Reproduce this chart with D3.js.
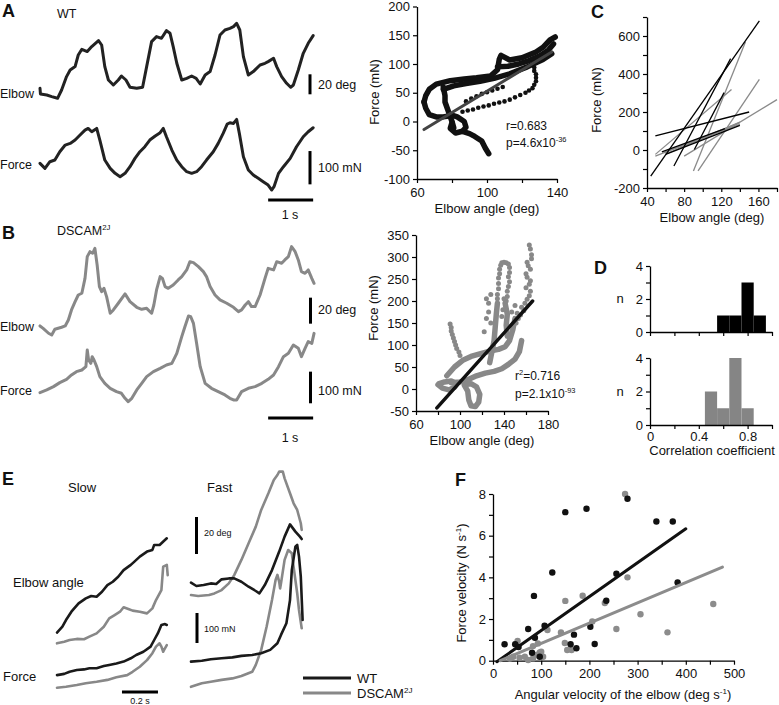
<!DOCTYPE html>
<html><head><meta charset="utf-8">
<script src="https://cdn.jsdelivr.net/npm/d3@7"></script>
<style>body{margin:0;background:#fff}</style>
</head><body>
<svg id="fig" width="779" height="705"></svg>
<script>
// ================= DATA =================
// Panel A (WT) traces: [time s, elbow deg] and [time s, force mN]
const aElbow = [[0,75],[0.01,69.3],[0.15,68.3],[0.26,66.7],[0.39,65],[0.48,73.3],[0.59,86.7],[0.67,93.3],[0.78,96.7],[0.85,108.3],[0.93,114],[1.05,111.7],[1.15,116.7],[1.30,122.7],[1.37,118.3],[1.44,96.7],[1.52,83.3],[1.63,78.3],[1.74,83.3],[1.81,87.3],[1.91,83.3],[2.00,76],[2.15,75],[2.28,76],[2.37,96.7],[2.48,121.7],[2.59,126.7],[2.70,125],[2.81,132.7],[2.89,130],[2.96,116.7],[3.04,100],[3.15,83.3],[3.26,85],[3.37,87.3],[3.47,85],[3.56,79.3],[3.67,88.3],[3.78,91.7],[3.89,108.3],[4.00,128.3],[4.11,133.3],[4.22,135],[4.30,136.7],[4.37,140],[4.44,133.3],[4.52,106.7],[4.63,88.3],[4.74,91.7],[4.89,98.3],[5.00,100],[5.07,101.7],[5.19,105],[5.26,96.7],[5.37,86.7],[5.48,80],[5.57,76],[5.63,78.3],[5.74,93.3],[5.85,110],[5.96,120],[6.07,127.7]];
const aForce = [[0,13],[0.11,-2],[0.22,18],[0.33,23],[0.44,48],[0.56,68],[0.67,73],[0.78,83],[0.89,98],[1.00,113],[1.07,118],[1.15,108],[1.26,118],[1.33,83],[1.44,23],[1.56,-2],[1.67,-17],[1.78,-27],[1.89,-17],[2.00,3],[2.11,28],[2.22,48],[2.33,63],[2.44,83],[2.56,95],[2.67,105],[2.74,118],[2.81,93],[2.93,53],[3.04,23],[3.15,3],[3.26,-12],[3.37,-17],[3.48,-12],[3.59,3],[3.70,23],[3.85,48],[3.96,73],[4.07,103],[4.16,131],[4.22,135],[4.30,133],[4.37,145],[4.43,103],[4.52,33],[4.63,-7],[4.74,-22],[4.85,-32],[4.96,-42],[5.07,-52],[5.15,-67],[5.20,-57],[5.30,-17],[5.41,3],[5.56,28],[5.70,63],[5.85,93],[5.96,108],[6.07,120]];
// Panel B (DSCAM2J) traces
const bElbow = [[0,86.8],[0.07,85],[0.19,81.3],[0.26,80],[0.33,84.3],[0.48,85.8],[0.56,86.8],[0.63,91.3],[0.70,98.8],[0.78,105],[0.85,110],[0.93,111.3],[1.00,122.5],[1.05,138.8],[1.11,142.5],[1.17,141.3],[1.22,145],[1.27,132.5],[1.32,116.3],[1.37,112.5],[1.42,115],[1.48,108.8],[1.56,96.3],[1.63,98.8],[1.74,103.8],[1.89,110.8],[2.00,105],[2.15,100.8],[2.26,99.3],[2.37,100],[2.48,96.3],[2.53,102.5],[2.59,113.8],[2.67,123.8],[2.72,122.5],[2.78,116.3],[2.85,115],[2.96,117.5],[3.07,121.3],[3.15,123.8],[3.26,128.8],[3.33,135],[3.41,134.3],[3.52,131.3],[3.63,127.5],[3.70,123.8],[3.78,116.3],[3.89,110],[4.00,106.3],[4.15,103.8],[4.30,100.8],[4.41,97.5],[4.48,98.8],[4.56,102.5],[4.63,105],[4.70,101.3],[4.78,101.3],[4.89,110],[5.00,122.5],[5.07,130],[5.19,128.8],[5.26,135],[5.37,133.8],[5.44,136.3],[5.52,138.8],[5.59,146.3],[5.67,142.5],[5.74,136.3],[5.81,127.5],[5.89,126.3],[5.96,128.8],[6.04,122.5],[6.09,118.8]];
const bForce = [[0,-13],[0.15,-5],[0.30,5],[0.44,17],[0.59,27],[0.70,40],[0.81,50],[0.93,55],[1.02,65],[1.05,115],[1.08,85],[1.13,75],[1.16,95],[1.20,85],[1.26,65],[1.33,35],[1.44,15],[1.56,0],[1.70,-10],[1.81,-15],[1.89,-30],[1.96,-40],[2.04,-30],[2.15,-5],[2.26,15],[2.37,35],[2.52,50],[2.67,60],[2.81,70],[2.93,75],[3.04,105],[3.15,155],[3.22,185],[3.30,217],[3.35,215],[3.41,195],[3.48,135],[3.56,65],[3.67,15],[3.81,0],[3.96,-10],[4.11,-20],[4.22,-30],[4.30,-35],[4.37,-35],[4.48,-10],[4.63,0],[4.78,5],[4.93,15],[5.07,27],[5.19,40],[5.30,65],[5.41,95],[5.52,105],[5.63,130],[5.74,120],[5.81,95],[5.89,120],[5.96,140],[6.04,135],[6.09,165]];

// Scatter A (WT): dense bands of points [elbow deg, force mN] and sparse points
const aBand1 = [[64,34],[65,45],[67,56],[71,65],[79,71],[87,74],[94,76],[102,79],[106,90],[107,108],[108,115],[113,107],[120,111],[128,121],[132,129],[136,142],[139,147]];
const aBand2 = [[75,56],[81,62],[88,66],[96,70],[104,75],[113,83],[123,95],[132,108],[137,118]];
const aBand3 = [[106,95],[112,96],[118,100],[124,106],[130,114],[135,124],[138,135]];
const aBand4 = [[64,34],[65,23],[67,12],[71,8],[75,8],[79,10]];
const aBand5 = [[75,60],[76,45],[76,34],[78,17],[80,0],[81,-11]];
const aBand6 = [[79,12],[83,8],[87,0],[88,-10],[86,-17],[82,-20],[79,-12],[80,-2]];
const aBand7 = [[86,-17],[90,-21],[93,-26],[97,-34],[99,-46],[101,-56]];
const aDots = [[86,17],[89,19],[92,21],[95,24],[98,26],[101,28],[104,31],[107,33],[110,35],[113,38],[116,42],[119,46],[122,50],[124,54],[126,58],[127,64],[128,70],[128,76],[128,82],[127,88],[127,94],[88,35],[91,40],[94,44],[97,48],[100,51],[103,54],[106,57],[109,60]];
const aFit = [[64,-14],[137,121]];

// Scatter B (DSCAM2J)
const bBand1 = [[80,10],[84,2],[90,-2],[95,4],[97,12],[92,18],[86,16],[81,12]];
const bBand2 = [[88,30],[95,50],[103,66],[110,74],[118,80],[127,86],[135,90],[141,96],[145,110],[148,135],[150,160]];
const bBand3 = [[92,14],[100,16],[108,22],[115,30],[123,36],[131,40],[138,46],[144,56],[150,68],[154,85],[156,110]];
const bBand4 = [[104,8],[107,-5],[108,-25],[110,-38],[114,-40],[117,-30],[118,-12],[115,5],[110,12],[105,10]];
const bBand5 = [[127,60],[129,85],[131,110],[132,140],[133,170],[134,195]];
const bBand6 = [[143,120],[142,145],[143,170],[141,195]];
const bDots = [[134,205],[134,215],[135,228],[135,240],[135,252],[136,262],[136,272],[137,281],[138,287],[140,288],[142,287],[144,284],[145,276],[145,265],[144,255],[145,244],[144,233],[143,222],[143,210],[142,200],
  [91,148],[92,140],[92,132],[93,124],[94,116],[95,108],[96,100],[97,92],[99,84],[100,76],
  [163,327],[164,318],[165,305],[165,296],[161,288],[162,280],[164,272],[160,262],[161,254],[164,246],[163,238],[160,230],[164,222],[163,212],[161,204],[159,195],[156,186],[158,178],[155,168],[153,160],[151,150],
  [124,160],[126,175],[128,150],[122,130],[138,165],[139,180],[147,175],[150,190],[152,172],[126,195],[124,205],[128,215],[140,205]];
const bFit = [[79,-43],[166,200]];

// Panel C regression lines [x1,y1,x2,y2]
const cWT = [[44,-137,161,679],[49,74,150,200],[69,-84,130,481],[60,-23,140,130],[91,3,123,302],[56,-10,124,112]];
const cDS = [[49,-23,131,319],[49,-32,140,144],[80,-32,180,265],[90,-110,146,568],[95,-110,161,372],[58,-14,140,135],[62,-18,140,147],[76,12,133,126]];

// Panel D histograms: bin start, bin end, count
const dWT = [[0.55,0.65,1],[0.65,0.75,1],[0.75,0.85,3],[0.85,0.95,1]];
const dDS = [[0.45,0.55,2],[0.55,0.65,1],[0.65,0.75,4],[0.75,0.85,1]];

// Panel E traces [time s, deg] / [time s, mN]
const eSlowWTElbow = [[0,14.8],[0.03,18],[0.05,21.6],[0.08,26.1],[0.12,30.6],[0.16,33.3],[0.19,34.6],[0.22,34.2],[0.25,36.9],[0.28,40.5],[0.31,42.3],[0.34,45],[0.37,48.6],[0.41,51.4],[0.43,53.2],[0.46,55.9],[0.50,58.6],[0.53,59.5],[0.54,62.2],[0.57,62.2],[0.61,65.8]];
const eSlowDSElbow = [[0,9],[0.04,9.9],[0.07,10.8],[0.11,11.4],[0.15,11.2],[0.18,12.6],[0.22,14.4],[0.26,18],[0.29,22.5],[0.32,24.3],[0.35,26.1],[0.37,28.5],[0.40,27.4],[0.42,26.7],[0.46,26.1],[0.50,25.2],[0.53,27.9],[0.55,32.4],[0.58,37.8],[0.59,50.5],[0.61,51.4],[0.615,45.9]];
const eSlowWTForce = [[0,83],[0.04,87],[0.07,94],[0.11,100],[0.15,102],[0.18,106],[0.22,106],[0.26,113],[0.29,117],[0.33,122],[0.37,128],[0.41,139],[0.44,150],[0.48,161],[0.52,178],[0.54,200],[0.56,222],[0.58,250],[0.60,253],[0.61,250]];
const eSlowDSForce = [[0,41],[0.05,44],[0.11,50],[0.16,56],[0.22,61],[0.28,67],[0.33,76],[0.39,83],[0.42,94],[0.46,111],[0.50,133],[0.53,156],[0.55,178],[0.57,189],[0.58,178],[0.59,161],[0.595,167],[0.61,183]];
const eFastWTElbow = [[0,41.8],[0.03,40],[0.07,40.5],[0.11,41.4],[0.14,41.1],[0.17,43.6],[0.21,44.1],[0.24,44.1],[0.28,42.3],[0.32,39.6],[0.36,37.3],[0.38,36],[0.41,40.5],[0.45,48.6],[0.49,58.6],[0.52,66.7],[0.55,73.3],[0.58,69.4],[0.605,66.7],[0.615,65.4]];
const eFastDSElbow = [[0,35.1],[0.04,34.6],[0.10,35.1],[0.13,36],[0.17,37.8],[0.21,41.4],[0.24,45.9],[0.28,54.1],[0.32,63.1],[0.36,72.1],[0.39,81.1],[0.43,90.1],[0.46,97.3],[0.48,100],[0.49,101.8],[0.51,101.8],[0.52,98.2],[0.55,90.1],[0.57,84.7],[0.59,81.1],[0.61,73.9],[0.615,70.3]];
const eFastWTForce = [[0,128],[0.06,131],[0.11,136],[0.17,139],[0.23,142],[0.28,147],[0.34,150],[0.39,156],[0.44,167],[0.48,189],[0.50,217],[0.53,256],[0.55,333],[0.56,433],[0.58,511],[0.59,517],[0.60,478],[0.61,411],[0.62,267]];
const eFastDSForce = [[0,44],[0.06,56],[0.11,61],[0.17,67],[0.23,72],[0.28,80],[0.34,94],[0.36,117],[0.39,167],[0.42,244],[0.45,333],[0.47,400],[0.48,417],[0.49,394],[0.495,372],[0.50,389],[0.52,467],[0.54,500],[0.56,489],[0.57,444],[0.59,356],[0.60,300],[0.615,239]];

// Panel F: angular velocity (deg/s) vs force velocity (N/s)
const fWTx = [24,46,53,73,85,87,81,107,123,150,194,168,161,173,211,202,256,235,279,339,373,383,97];
const fWTy = [0.79,0.79,0.66,1.52,3.11,1.1,0.38,1.68,4.23,7.13,7.29,1.25,0.79,0.6,0.8,1.63,4.17,2.88,7.77,6.68,6.68,3.75,0.19];
const fDSx = [274,279,150,186,232,306,256,362,457,113,141,149,206,154,163,51,73,83,93,97,42,55,66,90,104,100,35,83];
const fDSy = [8.0,4.0,2.87,3.12,2.77,2.23,1.52,1.36,2.72,1.47,1.35,0.85,1.88,0.51,0.51,0.95,0.03,0.7,0.83,0.4,0.19,0.14,0.19,0.27,0.19,0.43,0.1,0.11];
const fWTFit = [[8,-0.05],[400,6.33]];
const fDSFit = [[15,0],[476,4.49]];

// ================= DRAWING =================
const FONT = "'Liberation Sans', Arial, Helvetica, sans-serif";
const svg = d3.select("#fig");
const BLK = "#1a1a1a", GRY = "#888888";

function txt(x, y, parts, size, o = {}) {
  const t = svg.append("text").attr("x", x).attr("y", y)
    .attr("font-family", FONT).attr("font-size", size).attr("fill", o.fill || "#111");
  if (o.anchor) t.attr("text-anchor", o.anchor);
  if (o.weight) t.attr("font-weight", o.weight);
  if (o.rotate) t.attr("transform", `rotate(-90,${x},${y})`);
  if (typeof parts === "string") parts = [[parts, 0]];
  parts.forEach(([s, sup]) => {
    const ts = t.append("tspan").text(s);
    if (sup) ts.attr("font-size", size * 0.62).attr("dy", -size * 0.4);
    else if (t.node().childNodes.length > 1) ts.attr("dy", size * 0.4);
  });
  return t;
}
function styleAxis(g, fs = 13) {
  g.select(".domain").attr("stroke", "#000").attr("stroke-width", 1.3);
  g.selectAll(".tick line").attr("stroke", "#000").attr("stroke-width", 1.2);
  g.selectAll(".tick text").attr("font-family", FONT).attr("font-size", fs).attr("fill", "#111");
}
function axis(gen, tr, ticks, labeled, fmt = d => String(d), pad = 3) {
  const g = svg.append("g").attr("transform", tr)
    .call(gen.tickValues(ticks).tickSize(4).tickSizeOuter(0).tickPadding(pad)
      .tickFormat(d => labeled.some(v => Math.abs(v - d) < 1e-9) ? fmt(d) : ""));
  styleAxis(g);
  return g;
}
function trace(data, xs, ys, color, w) {
  svg.append("path").datum(data).attr("fill", "none").attr("stroke", color)
    .attr("stroke-width", w).attr("stroke-linejoin", "round").attr("stroke-linecap", "round")
    .attr("d", d3.line().x(d => xs(d[0])).y(d => ys(d[1])));
}
function vbar(x, y1, y2, w = 3) {
  svg.append("line").attr("x1", x).attr("x2", x).attr("y1", y1).attr("y2", y2)
    .attr("stroke", "#000").attr("stroke-width", w);
}
function hbar(x1, x2, y, w = 3) {
  svg.append("line").attr("x1", x1).attr("x2", x2).attr("y1", y).attr("y2", y)
    .attr("stroke", "#000").attr("stroke-width", w);
}

// ---- Panel letters ----
[["A",2,17],["B",2,239],["C",591,18],["D",594,274],["E",2,485],["F",455,486]]
  .forEach(([s,x,y]) => txt(x, y, s, 18, {weight: "bold"}));

// ---- Panel A traces ----
const xTA = d3.scaleLinear().domain([0, 1]).range([40, 85]);
const yAE = d3.scaleLinear().domain([65, 145]).range([98.3, 18.3]);
const yAF = d3.scaleLinear().domain([0, 100]).range([167.7, 134.4]);
trace(aElbow, xTA, yAE, "#222", 3);
trace(aForce, xTA, yAF, "#222", 3);
txt(57, 18, "WT", 12.5);
txt(0, 98, "Elbow", 12.5);
txt(0, 169, "Force", 12.5);
vbar(310, yAE(69), yAE(89));
txt(318, 89, "20 deg", 12.5);
vbar(310, yAF(-50), yAF(50));
txt(318, 172, "100 mN", 12.5);
hbar(xTA(5.07), xTA(6.07), 200);
txt(290, 219, "1 s", 12.5, {anchor: "middle"});

// ---- Panel B traces ----
const yBE = d3.scaleLinear().domain([80, 140]).range([335, 255]);
const yBF = d3.scaleLinear().domain([0, 100]).range([388.3, 355]);
trace(bElbow, xTA, yBE, GRY, 3);
trace(bForce, xTA, yBF, GRY, 3);
txt(57, 235, [["DSCAM",0],["2J",1]], 12.5);
txt(0, 331, "Elbow", 12.5);
txt(0, 395, "Force", 12.5);
vbar(310.5, yBE(88.5), yBE(108));
txt(318, 314, "20 deg", 12.5);
vbar(310.5, yBF(-45), yBF(50));
txt(318, 395, "100 mN", 12.5);
hbar(xTA(5.07), xTA(6.07), 418);
txt(290, 442, "1 s", 12.5, {anchor: "middle"});

// ---- Scatter A ----
const xSA = d3.scaleLinear().domain([60, 140]).range([417, 557]);
const ySA = d3.scaleLinear().domain([-100, 200]).range([179, 6.5]);
axis(d3.axisLeft(ySA), "translate(417,0)", [-100,-50,0,50,100,150,200], [-100,-50,0,50,100,150,200]);
axis(d3.axisBottom(xSA), "translate(0,179)", [60,80,100,120,140], [60,100,140], String, 5);
[aBand1,aBand2,aBand3,aBand4,aBand5,aBand6,aBand7].forEach(b => trace(b, xSA, ySA, "#111", 5.5));
svg.append("g").selectAll("circle").data(aDots).join("circle")
  .attr("cx", d => xSA(d[0])).attr("cy", d => ySA(d[1])).attr("r", 2.3).attr("fill", "#111");
trace(aFit, xSA, ySA, "#444", 3);
txt(379, 92, "Force (mN)", 13, {anchor: "middle", rotate: true});
txt(487, 213, "Elbow angle (deg)", 13, {anchor: "middle"});
txt(506, 130, "r=0.683", 12);
txt(506, 147, [["p=4.6x10",0],["-36",1]], 12);

// ---- Scatter B ----
const xSB = d3.scaleLinear().domain([60, 180]).range([416, 548]);
const ySB = d3.scaleLinear().domain([-50, 350]).range([411, 235]);
axis(d3.axisLeft(ySB), "translate(416,0)", d3.range(-50, 351, 50), d3.range(-50, 351, 50));
axis(d3.axisBottom(xSB), "translate(0,411)", d3.range(60, 181, 20), [60,100,140,180], String, 5);
[bBand1,bBand2,bBand3,bBand4,bBand5,bBand6].forEach(b => trace(b, xSB, ySB, GRY, 5.5));
svg.append("g").selectAll("circle").data(bDots).join("circle")
  .attr("cx", d => xSB(d[0])).attr("cy", d => ySB(d[1])).attr("r", 2.5).attr("fill", GRY);
trace(bFit, xSB, ySB, "#111", 3.5);
txt(378, 308, "Force (mN)", 13, {anchor: "middle", rotate: true});
txt(482, 445, "Elbow angle (deg)", 13, {anchor: "middle"});
txt(515, 380, [["r",0],["2",1],["=0.716",0]], 12);
txt(515, 398, [["p=2.1x10",0],["-93",1]], 12);

// ---- Panel C ----
const xC = d3.scaleLinear().domain([40, 180]).range([647, 777]);
const yC = d3.scaleLinear().domain([-200, 700]).range([188, 17]);
axis(d3.axisLeft(yC), "translate(647,0)", d3.range(-200, 701, 100), [-200,0,200,400,600]);
axis(d3.axisBottom(xC), "translate(0,188)", d3.range(40, 181, 20), [40,80,120,160], String, 5);
const cg = svg.append("g");
cg.selectAll("line.ds").data(cDS).join("line").attr("class","ds")
  .attr("x1", d => xC(d[0])).attr("y1", d => yC(d[1])).attr("x2", d => xC(d[2])).attr("y2", d => yC(d[3]))
  .attr("stroke", "#8a8a8a").attr("stroke-width", 1.3);
cg.selectAll("line.wt").data(cWT).join("line").attr("class","wt")
  .attr("x1", d => xC(d[0])).attr("y1", d => yC(d[1])).attr("x2", d => xC(d[2])).attr("y2", d => yC(d[3]))
  .attr("stroke", "#000").attr("stroke-width", 1.3);
txt(601, 100, "Force (mN)", 13, {anchor: "middle", rotate: true});
txt(712, 222, "Elbow angle (deg)", 13, {anchor: "middle"});

// ---- Panel D ----
const xD = d3.scaleLinear().domain([0, 1]).range([650, 772]);
const yDT = d3.scaleLinear().domain([0, 4]).range([332, 266]);
const yDB = d3.scaleLinear().domain([0, 4]).range([425, 358]);
svg.append("g").selectAll("rect").data(dWT).join("rect")
  .attr("x", d => xD(d[0])).attr("width", d => xD(d[1]) - xD(d[0]))
  .attr("y", d => yDT(d[2])).attr("height", d => yDT(0) - yDT(d[2])).attr("fill", "#000");
svg.append("g").selectAll("rect").data(dDS).join("rect")
  .attr("x", d => xD(d[0])).attr("width", d => xD(d[1]) - xD(d[0]))
  .attr("y", d => yDB(d[2])).attr("height", d => yDB(0) - yDB(d[2])).attr("fill", "#858585");
const xTicksD = [0,0.2,0.4,0.6,0.8,1.0];
axis(d3.axisLeft(yDT), "translate(650,0)", [0,1,2,3,4], [0,2,4]);
axis(d3.axisBottom(xD), "translate(0,332)", xTicksD, []);
axis(d3.axisLeft(yDB), "translate(650,0)", [0,1,2,3,4], [0,2,4]);
axis(d3.axisBottom(xD), "translate(0,425)", xTicksD, [0,0.4,0.8], d => d === 0 ? "0" : String(d));
txt(620, 303, "n", 13, {anchor: "middle"});
txt(620, 396, "n", 13, {anchor: "middle"});
txt(712, 455, "Correlation coefficient", 13, {anchor: "middle"});

// ---- Panel E ----
const xES = d3.scaleLinear().domain([0, 1]).range([57, 237]);
const xEF = d3.scaleLinear().domain([0, 1]).range([191, 371]);
const yEE = d3.scaleLinear().domain([0, 100]).range([660, 475]);
const yEF = d3.scaleLinear().domain([0, 100]).range([700, 670]);
trace(eSlowDSElbow, xES, yEE, GRY, 2.6);
trace(eSlowWTElbow, xES, yEE, BLK, 2.6);
trace(eSlowDSForce, xES, yEF, GRY, 2.6);
trace(eSlowWTForce, xES, yEF, BLK, 2.6);
trace(eFastDSElbow, xEF, yEE, GRY, 2.6);
trace(eFastWTElbow, xEF, yEE, BLK, 2.6);
trace(eFastDSForce, xEF, yEF, GRY, 2.6);
trace(eFastWTForce, xEF, yEF, BLK, 2.6);
txt(68, 492, "Slow", 13);
txt(207, 492, "Fast", 13);
txt(13, 587, "Elbow angle", 13);
txt(3, 681, "Force", 13);
vbar(196.5, yEE(57.3), yEE(77.3));
txt(204, 536, "20 deg", 9);
vbar(197, yEF(190), yEF(290));
txt(204, 632, "100 mN", 9);
hbar(xES(0.361), xES(0.561), 692);
txt(140, 704, "0.2 s", 9, {anchor: "middle"});
svg.append("line").attr("x1",303).attr("x2",351).attr("y1",678).attr("y2",678).attr("stroke",BLK).attr("stroke-width",3);
svg.append("line").attr("x1",303).attr("x2",351).attr("y1",693).attr("y2",693).attr("stroke",GRY).attr("stroke-width",3);
txt(357, 683, "WT", 13);
txt(357, 698, [["DSCAM",0],["2J",1]], 13);

// ---- Panel F ----
const xF = d3.scaleLinear().domain([0, 500]).range([493, 734]);
const yF = d3.scaleLinear().domain([0, 8]).range([660.7, 494]);
axis(d3.axisLeft(yF), "translate(493,0)", d3.range(0, 9, 1), [0,2,4,6,8]);
axis(d3.axisBottom(xF), "translate(0,660.7)", d3.range(0, 501, 50), [0,100,200,300,400,500], String, 4);
svg.append("g").selectAll("circle").data(fDSx).join("circle")
  .attr("cx", d => xF(d)).attr("cy", (d, i) => yF(fDSy[i])).attr("r", 3.2).attr("fill", "#8c8c8c");
svg.append("g").selectAll("circle").data(fWTx).join("circle")
  .attr("cx", d => xF(d)).attr("cy", (d, i) => yF(fWTy[i])).attr("r", 3.2).attr("fill", "#111");
trace(fWTFit, xF, yF, "#111", 3);
trace(fDSFit, xF, yF, "#8c8c8c", 3);
txt(466, 583, [["Force velocity (N s",0],["-1",1],[")",0]], 13, {anchor: "middle", rotate: true});
txt(623, 699, [["Angular velocity of the elbow (deg s",0],["-1",1],[")",0]], 13, {anchor: "middle"});
</script>
</body></html>
